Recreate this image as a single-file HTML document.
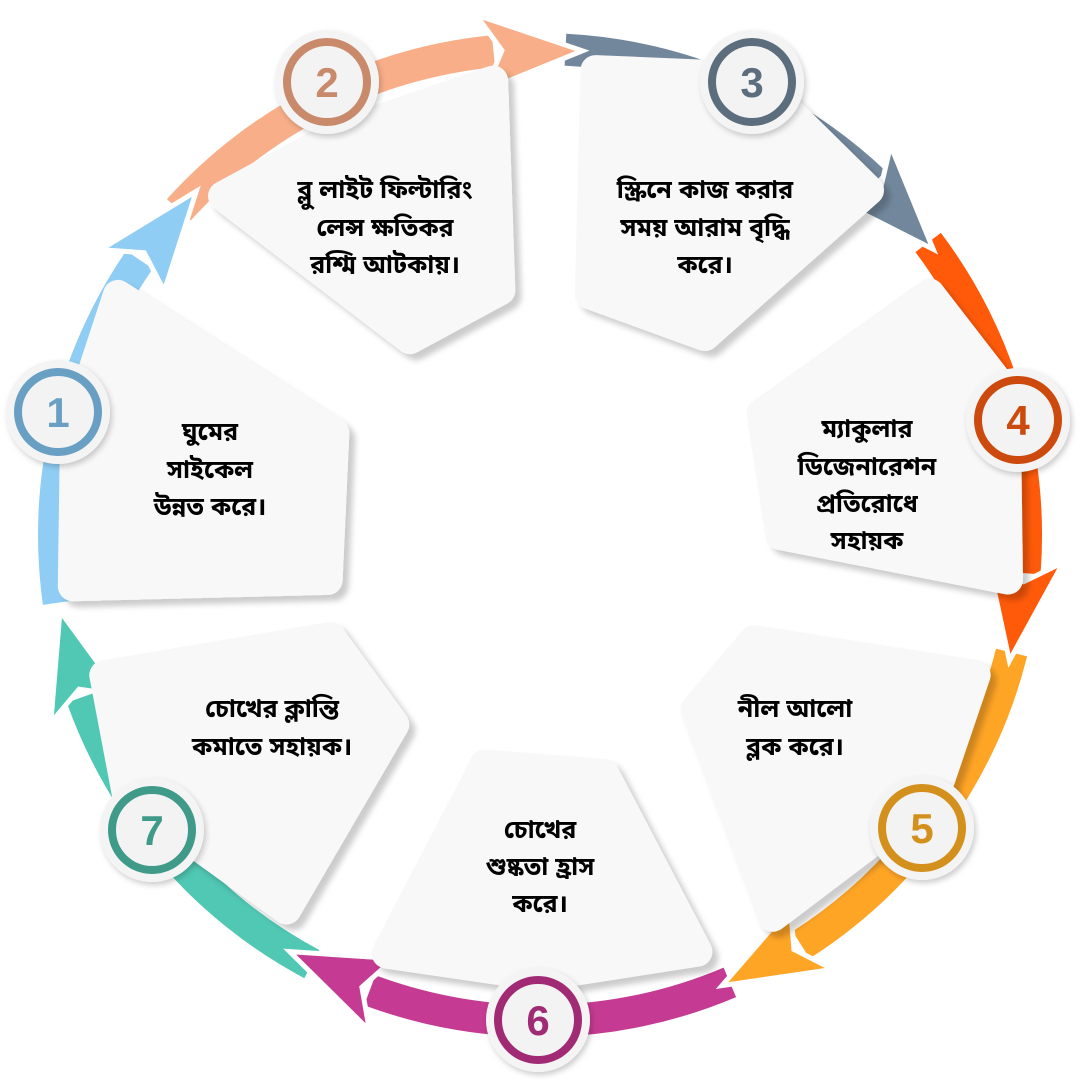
<!DOCTYPE html>
<html><head><meta charset="utf-8">
<style>
html,body{margin:0;padding:0;background:#fff;}
svg{display:block;}
text{font-family:"Liberation Sans","Noto Sans Bengali","Lohit Bengali",sans-serif;font-weight:bold;}
</style></head>
<body>
<svg id="s" width="1080" height="1080" viewBox="0 0 1080 1080" xmlns="http://www.w3.org/2000/svg">
<defs>
<filter id="sh" x="-20%" y="-20%" width="140%" height="140%">
<feDropShadow dx="6" dy="6" stdDeviation="3" flood-color="#000" flood-opacity="0.2"/>
</filter>
<filter id="csh" x="-30%" y="-30%" width="160%" height="160%">
<feDropShadow dx="2" dy="3" stdDeviation="3" flood-color="#000" flood-opacity="0.2"/>
</filter>
</defs>
<g id="arcs"></g>
<g id="heads"></g>
<g id="panels" filter="url(#sh)"></g>
<g id="circles"></g>
<g id="txt" font-size="25" text-anchor="middle" fill="#000">
<text x="210" y="440">ঘুমের</text><text x="210" y="478">সাইকেল</text><text x="210" y="515">উন্নত করে।</text>
<text x="385" y="198">ব্লু লাইট ফিল্টারিং</text><text x="385" y="236">লেন্স ক্ষতিকর</text><text x="385" y="273">রশ্মি আটকায়।</text>
<text x="705" y="198">স্ক্রিনে কাজ করার</text><text x="705" y="236">সময় আরাম বৃদ্ধি</text><text x="705" y="273">করে।</text>
<text x="867" y="437">ম্যাকুলার</text><text x="867" y="475">ডিজেনারেশন</text><text x="867" y="512">প্রতিরোধে</text><text x="867" y="549">সহায়ক</text>
<text x="795" y="717">নীল আলো</text><text x="795" y="755">ব্লক করে।</text>
<text x="540" y="838">চোখের</text><text x="540" y="875">শুষ্কতা হ্রাস</text><text x="540" y="912">করে।</text>
<text x="272" y="717">চোখের ক্লান্তি</text><text x="272" y="755">কমাতে সহায়ক।</text>
</g>
</svg>
<script>
var NS="http://www.w3.org/2000/svg";
var cx=540,cy=535,R=486;
function P(r,a){a=a*Math.PI/180;return [(cx+r*Math.cos(a)).toFixed(1),(cy+r*Math.sin(a)).toFixed(1)];}
function el(n,at,par){var e=document.createElementNS(NS,n);for(var k in at)e.setAttribute(k,at[k]);document.getElementById(par).appendChild(e);return e;}
var segs=[
["#8fcdf4",172,225],["#f8ae88",222,275],["#72879c",273,324],["#ff5a0a",323,375],
["#ffa526",374,428],["#c53a92",427,481],["#50c8b4",478,531]];
segs.forEach(function(s){
 var w=16,h=11,a0=s[1],a1=s[2]-h;
 var o0=P(R+w,a0),o1=P(R+w,a1+0.5),i1=P(R-w,a1+0.5),i0=P(R-w,a0);
 el("path",{d:"M"+o0+" A"+(R+w)+" "+(R+w)+" 0 0 1 "+o1+" L"+i1+" A"+(R-w)+" "+(R-w)+" 0 0 0 "+i0+" Z",fill:s[0]},"arcs");
 var b1=P(R+38,a1-1),b2=P(R-38,a1-1),t=P(R,s[2]),n=P(R,a1+1.5);
 el("path",{d:"M"+b1+" L"+t+" L"+b2+" L"+n+" Z",fill:s[0],stroke:"#fff","stroke-width":5,"stroke-linejoin":"miter"},"heads");
});
var panels=[
"60,420 112,280 350,430 340,590 62,598",
"207,195 330,120 503,68 513,300 412,355",
"585,58 760,62 885,190 705,352 578,305",
"746,410 933,278 1020,385 1018,592 768,545",
"680,705 745,627 990,668 950,800 768,932",
"478,750 612,760 712,958 540,992 372,960",
"90,668 340,624 410,722 290,925 112,800"];
panels.forEach(function(p){
 var pts=p.split(" ").map(function(q){return q.split(",").map(Number);});
 var mx=0,my=0;pts.forEach(function(q){mx+=q[0];my+=q[1];});mx/=pts.length;my/=pts.length;
 var np=pts.map(function(q){var dx=q[0]-mx,dy=q[1]-my,d=Math.sqrt(dx*dx+dy*dy);return (q[0]-dx/d*16).toFixed(1)+","+(q[1]-dy/d*16).toFixed(1);}).join(" ");
 el("polygon",{points:np,fill:"#f8f8f8",stroke:"#f8f8f8","stroke-width":30,"stroke-linejoin":"round"},"panels");
});
var circ=[["1",58,412,"#6a9fc4"],["2",327,82,"#c98a6c"],["3",752,82,"#5c6d7e"],["4",1018,420,"#cc4a0d"],["5",922,828,"#d4901c"],["6",538,1020,"#a02a74"],["7",152,830,"#3f9a8a"]];
circ.forEach(function(c){
 var g=el("g",{filter:"url(#csh)"},"circles");
 var e=document.createElementNS(NS,"circle");e.setAttribute("cx",c[1]);e.setAttribute("cy",c[2]);e.setAttribute("r",52);e.setAttribute("fill","#f4f4f4");g.appendChild(e);
 el("circle",{cx:c[1],cy:c[2],r:40,fill:"#f3f3f3",stroke:c[3],"stroke-width":8},"circles");
 var t=el("text",{x:c[1],y:c[2]+15,"text-anchor":"middle","font-size":42,fill:c[3]},"circles");t.textContent=c[0];
});
</script>
</body></html>
